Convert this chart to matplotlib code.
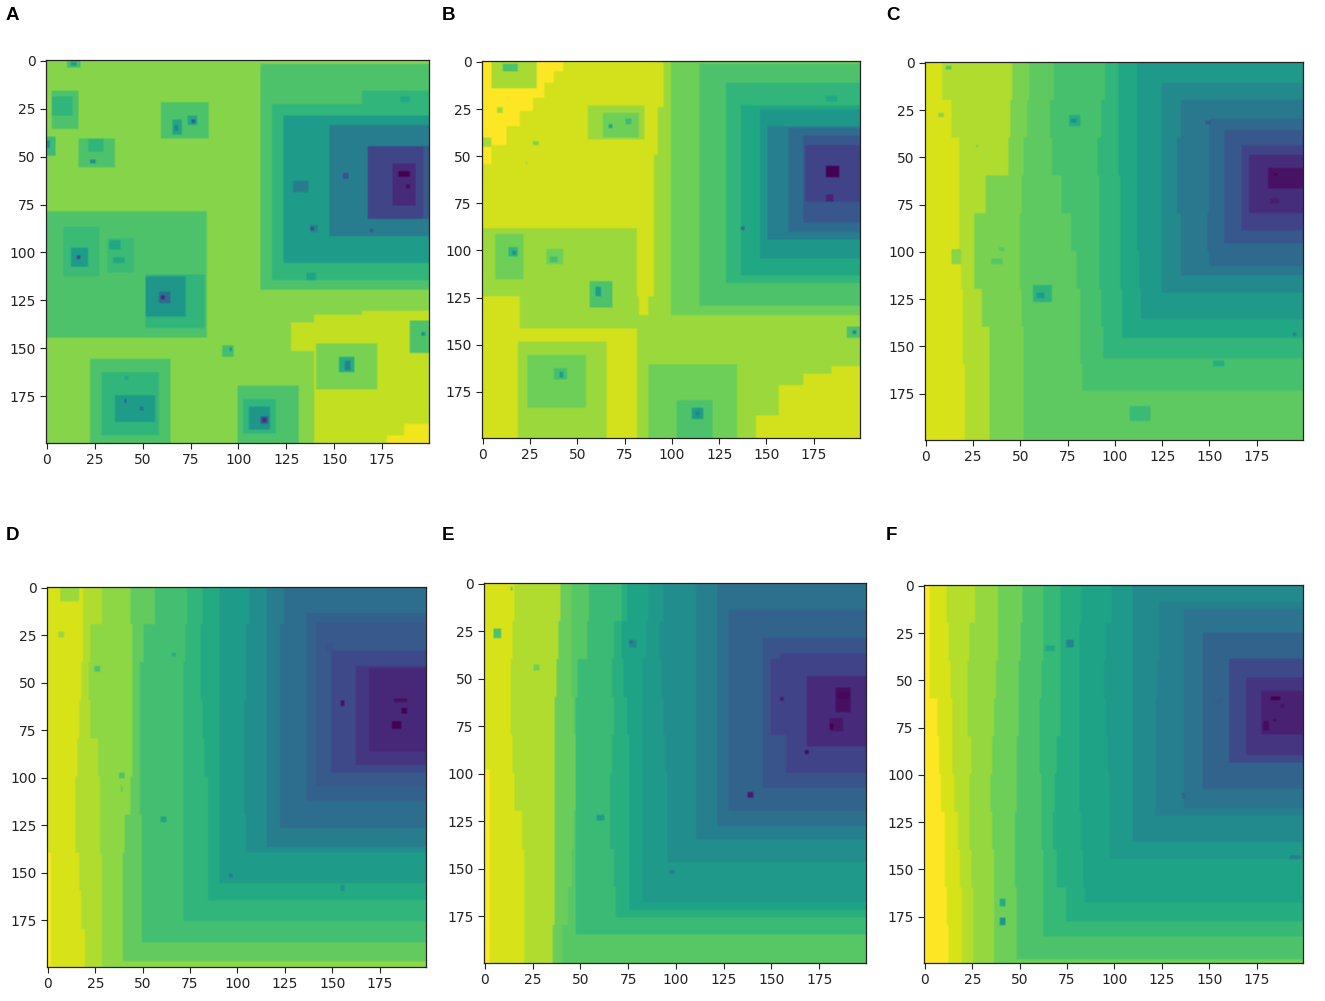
import numpy as np
import matplotlib
matplotlib.use("Agg")
import matplotlib.pyplot as plt

LABELS = ["A", "B", "C", "D", "E", "F"]
TICKS = [0, 25, 50, 75, 100, 125, 150, 175]
SIZE = 200

# boxes: (level, x0, x1, y0, y1), painted in order
A_BASE = 0.82
A_BOXES = [
    (0.91, 140, 200, 133, 200), (0.91, 128, 140, 137, 152), (0.91, 165, 200, 131, 134),
    (0.98, 187, 200, 190, 200), (0.98, 178, 187, 196, 200),
    (0.72, 112, 200, 2, 120), (0.66, 118, 200, 23, 115), (0.66, 165, 200, 16, 23),
    (0.55, 124, 200, 29, 106), (0.42, 148, 200, 34, 92), (0.28, 168, 200, 45, 83),
    (0.21, 168, 197, 45, 83), (0.12, 181, 193, 54, 76),
    (0.72, 3, 17, 16, 36), (0.66, 3, 14, 19, 29), (0.68, 0, 5, 40, 50), (0.5, 0, 2, 42, 46),
    (0.72, 17, 36, 41, 56), (0.66, 22, 30, 41, 48), (0.5, 23, 26, 52, 54),
    (0.7, 11, 18, 0, 4), (0.55, 13, 16, 1, 3),
    (0.72, 60, 85, 22, 41), (0.6, 66, 71, 31, 39), (0.6, 74, 79, 29, 34),
    (0.45, 67, 69, 34, 37), (0.3, 76, 78, 31, 33),
    (0.72, 0, 84, 79, 145),
    (0.68, 9, 28, 87, 113), (0.55, 13, 22, 98, 108), (0.25, 16, 18, 102, 104),
    (0.68, 32, 46, 93, 111), (0.6, 33, 39, 94, 99), (0.6, 35, 41, 103, 106),
    (0.66, 52, 83, 112, 140), (0.53, 52, 73, 113, 134), (0.35, 59, 65, 121, 127), (0.12, 60, 62, 123, 125),
    (0.7, 92, 98, 149, 155), (0.5, 96, 97, 150, 152),
    (0.8, 141, 173, 148, 172), (0.62, 153, 161, 155, 163), (0.45, 156, 159, 157, 162),
    (0.72, 190, 200, 136, 153), (0.5, 196, 198, 142, 144),
    (0.72, 23, 65, 156, 200), (0.66, 29, 59, 163, 196), (0.55, 36, 57, 175, 189),
    (0.6, 41, 43, 165, 167), (0.3, 41, 42, 177, 179), (0.38, 49, 51, 181, 183),
    (0.72, 100, 132, 170, 200), (0.66, 103, 120, 177, 195), (0.53, 106, 117, 181, 193),
    (0.3, 112, 116, 186, 190), (0.12, 113, 115, 187, 189),
    (0.42, 129, 137, 63, 69), (0.45, 138, 142, 86, 90), (0.25, 138, 140, 87, 89),
    (0.58, 136, 141, 111, 115), (0.25, 155, 158, 59, 62), (0.6, 185, 190, 19, 22),
    (0.3, 169, 171, 88, 90), (0.0, 184, 190, 58, 61), (0.03, 188, 190, 65, 67),
]

B_BASE = 0.93
B_BOXES = [
    (1.0, 0, 43, 0, 6), (1.0, 0, 38, 6, 12), (1.0, 0, 33, 12, 20), (1.0, 0, 27, 20, 27),
    (1.0, 0, 20, 27, 35), (1.0, 0, 13, 35, 45), (1.0, 0, 5, 45, 55),
    (0.87, 5, 29, 0, 15), (0.72, 11, 19, 2, 6), (0.86, 8, 11, 25, 28), (0.87, 0, 5, 41, 46),
    (0.8, 27, 30, 43, 45), (0.84, 23, 24, 54, 55),
    (0.85, 96, 200, 0, 25), (0.85, 93, 200, 25, 50), (0.85, 91, 200, 50, 125),
    (0.85, 88, 200, 125, 135), (0.85, 82, 200, 135, 200),
    (0.93, 145, 200, 188, 200), (0.93, 157, 200, 172, 188), (0.93, 170, 200, 166, 172),
    (0.93, 185, 200, 162, 166),
    (0.85, 0, 82, 89, 125), (0.85, 20, 83, 125, 142), (0.85, 19, 66, 149, 200),
    (0.78, 24, 55, 156, 184), (0.7, 38, 45, 163, 169), (0.55, 41, 43, 165, 168),
    (0.78, 7, 22, 92, 116), (0.66, 14, 19, 99, 104), (0.5, 16, 18, 101, 103),
    (0.78, 34, 43, 100, 108), (0.7, 36, 40, 104, 107),
    (0.72, 57, 69, 117, 131), (0.55, 60, 63, 120, 125),
    (0.85, 56, 86, 24, 42), (0.78, 64, 83, 28, 41), (0.68, 76, 79, 31, 34), (0.6, 67, 69, 34, 36),
    (0.78, 88, 135, 161, 200), (0.72, 103, 122, 180, 200), (0.55, 111, 117, 184, 190), (0.45, 113, 115, 186, 188),
    (0.78, 100, 200, 0, 135), (0.72, 115, 200, 2, 130), (0.66, 129, 200, 12, 118),
    (0.6, 137, 200, 24, 114), (0.53, 147, 200, 26, 105), (0.43, 151, 200, 35, 95),
    (0.35, 162, 200, 36, 91), (0.27, 170, 200, 40, 86), (0.2, 171, 200, 45, 75),
    (0.0, 182, 189, 56, 62), (0.1, 182, 186, 71, 75), (0.36, 137, 139, 88, 90), (0.6, 182, 188, 19, 22),
    (0.72, 193, 200, 141, 147), (0.48, 196, 198, 143, 145),
]

# bands: (level, top, bottom, left edge x for each 20-row strip) – right side reaches the border
C_BASE = 0.94
C_BANDS = [
    (0.88, 0, 200, [9, 14, 18, 18, 18, 19, 20, 20, 21, 21]),
    (0.80, 0, 200, [46, 45, 44, 32, 26, 26, 30, 34, 34, 34]),
    (0.75, 0, 200, [55, 54, 52, 51, 50, 50, 51, 52, 52, 52]),
    (0.71, 0, 174, [68, 66, 67, 72, 77, 80, 82, 82, 83, 83]),
    (0.66, 0, 157, [95, 93, 91, 92, 92, 92, 93, 94, 94, 94]),
    (0.60, 0, 146, [102, 102, 102, 103, 103, 103, 104, 104, 104, 104]),
    (0.54, 0, 136, [112, 112, 112, 112, 112, 113, 114, 114, 114, 114]),
    (0.47, 11, 122, [125, 125, 125, 125, 125, 125, 125, 125, 125, 125]),
    (0.40, 20, 113, [135, 135, 133, 133, 135, 135, 135, 135, 135, 135]),
    (0.34, 30, 108, [150, 150, 150, 150, 149, 150, 150, 150, 150, 150]),
    (0.27, 36, 96, [158, 158, 158, 158, 158, 158, 158, 158, 158, 158]),
    (0.20, 44, 89, [167, 167, 167, 167, 167, 167, 167, 167, 167, 167]),
    (0.13, 49, 80, [171, 171, 171, 171, 171, 171, 171, 171, 171, 171]),
    (0.05, 56, 67, [181, 181, 181, 181, 181, 181, 181, 181, 181, 181]),
]
C_SPOTS = [
    (0.74, 11, 14, 2, 4), (0.82, 7, 10, 27, 29), (0.62, 76, 82, 28, 34), (0.5, 77, 80, 30, 32),
    (0.82, 14, 19, 99, 107), (0.74, 35, 41, 104, 107), (0.74, 39, 42, 98, 100),
    (0.65, 57, 67, 118, 127), (0.55, 59, 63, 122, 125), (0.76, 27, 28, 44, 45),
    (0.68, 108, 119, 182, 190), (0.62, 152, 158, 158, 161), (0.45, 194, 196, 143, 145),
    (0.08, 182, 187, 72, 75), (0.0, 184, 186, 59, 60), (0.27, 148, 151, 31, 33),
]

D_BASE = 0.94
D_BANDS = [
    (0.88, 0, 200, [19, 19, 18, 17, 16, 15, 15, 17, 18, 20]),
    (0.83, 0, 200, [29, 23, 22, 23, 27, 28, 28, 29, 29, 29]),
    (0.76, 0, 197, [44, 45, 45, 45, 45, 44, 41, 40, 40, 40]),
    (0.70, 0, 187, [57, 51, 49, 49, 49, 49, 50, 50, 50, 50]),
    (0.66, 0, 176, [74, 73, 72, 72, 72, 72, 72, 72, 72, 72]),
    (0.61, 0, 165, [82, 81, 81, 82, 83, 85, 85, 85, 85, 85]),
    (0.55, 0, 156, [91, 91, 91, 91, 91, 91, 91, 91, 91, 91]),
    (0.49, 0, 140, [107, 105, 105, 104, 104, 104, 105, 105, 105, 105]),
    (0.42, 0, 137, [116, 116, 116, 116, 116, 116, 116, 116, 116, 116]),
    (0.36, 0, 127, [125, 123, 123, 123, 123, 123, 123, 123, 123, 123]),
    (0.31, 14, 113, [137, 137, 137, 137, 137, 137, 137, 137, 137, 137]),
    (0.28, 19, 105, [142, 142, 142, 142, 142, 142, 142, 142, 142, 142]),
    (0.22, 34, 98, [150, 150, 150, 150, 150, 150, 150, 150, 150, 150]),
    (0.16, 42, 94, [163, 163, 163, 163, 163, 163, 163, 163, 163, 163]),
    (0.11, 43, 87, [170, 170, 170, 170, 170, 170, 170, 170, 170, 170]),
]
D_SPOTS = [
    (1.0, 0, 2, 140, 200), (0.85, 7, 17, 0, 8), (0.84, 6, 9, 24, 27), (0.72, 25, 28, 42, 45),
    (0.72, 38, 41, 98, 101), (0.75, 39, 40, 105, 108), (0.58, 60, 63, 121, 124),
    (0.26, 147, 151, 30, 34), (0.0, 182, 187, 71, 75), (0.0, 187, 190, 64, 67),
    (0.04, 183, 190, 59, 61), (0.05, 155, 157, 60, 63), (0.62, 66, 68, 35, 37),
    (0.35, 134, 136, 65, 67), (0.42, 96, 98, 151, 153), (0.5, 155, 157, 157, 160),
]

E_BASE = 0.94
E_BANDS = [
    (0.88, 0, 200, [16, 15, 14, 14, 15, 16, 20, 21, 21, 21]),
    (0.77, 0, 200, [40, 39, 38, 37, 37, 37, 37, 37, 37, 36]),
    (0.74, 0, 200, [46, 46, 46, 47, 48, 48, 47, 46, 44, 41]),
    (0.68, 0, 185, [55, 54, 49, 48, 48, 48, 48, 48, 48, 48]),
    (0.63, 0, 176, [72, 68, 67, 68, 67, 66, 66, 68, 69, 69]),
    (0.58, 0, 172, [75, 72, 73, 75, 76, 76, 76, 76, 76, 76]),
    (0.54, 0, 168, [86, 85, 83, 83, 83, 83, 83, 83, 83, 83]),
    (0.49, 0, 147, [94, 92, 93, 94, 95, 96, 96, 96, 96, 96]),
    (0.43, 0, 135, [111, 111, 111, 111, 111, 111, 111, 111, 111, 111]),
    (0.37, 0, 128, [122, 122, 122, 122, 122, 122, 122, 122, 122, 122]),
    (0.32, 14, 120, [128, 128, 128, 128, 128, 128, 128, 128, 128, 128]),
    (0.26, 29, 108, [146, 146, 146, 146, 146, 146, 146, 146, 146, 146]),
    (0.20, 37, 100, [155, 155, 150, 150, 158, 160, 160, 160, 160, 160]),
    (0.12, 49, 86, [169, 169, 169, 169, 169, 169, 169, 169, 169, 169]),
]
E_SPOTS = [
    (1.0, 0, 3, 98, 200), (0.72, 5, 9, 24, 29), (0.78, 26, 29, 43, 46), (0.55, 59, 63, 122, 125),
    (0.48, 76, 80, 30, 34), (0.35, 76, 78, 30, 32), (0.42, 97, 100, 151, 153), (0.07, 138, 141, 110, 113),
    (0.02, 168, 170, 88, 90), (0.07, 155, 157, 60, 62), (0.04, 184, 192, 55, 68), (0.02, 185, 191, 57, 61),
    (0.06, 181, 188, 71, 78), (0.0, 181, 183, 74, 77), (0.75, 14, 15, 2, 4),
]

F_BASE = 1.0
F_BANDS = [
    (0.94, 0, 200, [3, 3, 3, 7, 8, 9, 11, 11, 12, 13]),
    (0.89, 0, 200, [12, 13, 14, 15, 15, 16, 18, 19, 20, 20]),
    (0.84, 0, 200, [27, 24, 23, 23, 25, 24, 24, 25, 26, 26]),
    (0.78, 0, 200, [39, 39, 38, 37, 36, 35, 36, 37, 37, 37]),
    (0.72, 0, 198, [52, 51, 50, 50, 49, 49, 48, 48, 49, 49]),
    (0.67, 0, 186, [63, 63, 62, 61, 61, 62, 62, 63, 63, 63]),
    (0.62, 0, 178, [72, 72, 72, 72, 70, 69, 68, 70, 75, 75]),
    (0.58, 0, 168, [83, 82, 82, 82, 82, 82, 83, 84, 85, 85]),
    (0.54, 0, 145, [99, 96, 95, 96, 97, 98, 98, 98, 98, 98]),
    (0.48, 0, 136, [110, 110, 110, 110, 110, 110, 110, 110, 110, 110]),
    (0.43, 9, 122, [124, 124, 123, 122, 122, 122, 122, 122, 122, 122]),
    (0.38, 13, 118, [137, 137, 137, 137, 137, 137, 137, 137, 137, 137]),
    (0.32, 25, 108, [147, 147, 147, 147, 147, 147, 147, 147, 147, 147]),
    (0.22, 39, 94, [161, 161, 161, 161, 161, 161, 161, 161, 161, 161]),
    (0.15, 49, 90, [170, 170, 170, 170, 170, 170, 170, 170, 170, 170]),
    (0.09, 56, 79, [178, 178, 178, 178, 178, 178, 178, 178, 178, 178]),
]
F_SPOTS = [
    (0.6, 64, 69, 32, 35), (0.45, 75, 79, 29, 33), (0.62, 40, 43, 166, 170), (0.52, 40, 43, 176, 180),
    (0.3, 153, 157, 60, 63), (0.42, 193, 199, 143, 145), (0.0, 183, 188, 59, 61),
    (0.03, 179, 182, 72, 77), (0.02, 184, 186, 71, 72), (0.05, 188, 190, 63, 65), (0.33, 136, 138, 110, 113),
]

# axes frames in pixels of the 1325x1001 figure: left, right, top, bottom
FRAMES = [
    (46, 429, 60, 443), (482, 860, 61, 438), (925, 1303, 62, 440),
    (47, 426, 587, 967), (484, 866, 583, 963), (924, 1303, 585, 963),
]
LABEL_XY = [(6, 15), (442, 15), (886, 15), (6, 535), (442, 535), (886, 535)]


def paint(grid, level, x0, x1, y0, y1):
    grid[y0:y1, x0:x1] = level


def build(base, boxes=(), bands=(), spots=()):
    grid = np.full((SIZE, SIZE), float(base))
    for level, top, bottom, edges in bands:
        for i, x in enumerate(edges):
            y0 = max(top, i * 20)
            y1 = min(bottom, (i + 1) * 20)
            if y1 > y0:
                paint(grid, level, x, SIZE, y0, y1)
    for level, x0, x1, y0, y1 in list(boxes) + list(spots):
        paint(grid, level, x0, x1, y0, y1)
    return grid


grids = [
    build(A_BASE, boxes=A_BOXES),
    build(B_BASE, boxes=B_BOXES),
    build(C_BASE, bands=C_BANDS, spots=C_SPOTS),
    build(D_BASE, bands=D_BANDS, spots=D_SPOTS),
    build(E_BASE, bands=E_BANDS, spots=E_SPOTS),
    build(F_BASE, bands=F_BANDS, spots=F_SPOTS),
]

W, H = 1325, 1001
fig = plt.figure(figsize=(W / 100, H / 100), dpi=100)
for grid, (l, r, t, b), name, (lx, ly) in zip(grids, FRAMES, LABELS, LABEL_XY):
    ax = fig.add_axes([l / W, 1 - b / H, (r - l) / W, (b - t) / H])
    ax.imshow(grid, cmap="viridis", vmin=0, vmax=1, aspect="auto", interpolation="bilinear")
    ax.set_xticks(TICKS)
    ax.set_yticks(TICKS)
    ax.tick_params(labelsize=10, length=4, width=0.8, colors="#222222", pad=3.5)
    for s in ax.spines.values():
        s.set_linewidth(0.9)
        s.set_color("#222222")
    fig.text(lx / W, 1 - ly / H, name, fontsize=13.5, fontweight="bold",
             family="Liberation Sans", ha="left", va="center")

fig.savefig("out.png", dpi=100)
